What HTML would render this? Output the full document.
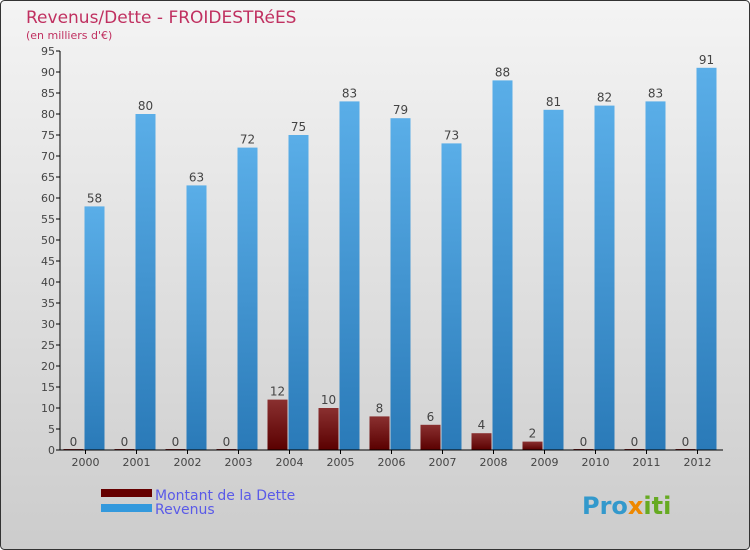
<!DOCTYPE html>
<html><head><meta charset="utf-8"><style>
body{margin:0;}
#wrap{position:relative;width:750px;height:550px;overflow:hidden;}
svg text{font-family:"DejaVu Sans","Liberation Sans",sans-serif;}
</style></head><body>
<div id="wrap">
<svg id="svg" width="750" height="550" xmlns="http://www.w3.org/2000/svg">
<defs>
<linearGradient id="bg" x1="0" y1="0" x2="0" y2="1"><stop offset="0" stop-color="#f4f4f4"/><stop offset="1" stop-color="#cccccc"/></linearGradient>
<linearGradient id="gd" x1="0" y1="0" x2="0" y2="1"><stop offset="0" stop-color="#8a3030"/><stop offset="1" stop-color="#5a0000"/></linearGradient>
<linearGradient id="gr" x1="0" y1="0" x2="0" y2="1"><stop offset="0" stop-color="#5aaee8"/><stop offset="1" stop-color="#2a7ab8"/></linearGradient>
</defs>
<rect x="0.5" y="0.5" width="749" height="549" rx="4" fill="url(#bg)" stroke="#333"/>
<text x="26" y="23" font-size="17" fill="#c03060">Revenus/Dette - FROIDESTRéES</text>
<text x="26" y="39" font-size="11" fill="#c03060">(en milliers d'€)</text>
<g id="plot"></g>
<rect x="101" y="489" width="51" height="8" fill="#660000"/>
<text x="155" y="500" font-size="14" fill="#5a5ae8">Montant de la Dette</text>
<rect x="101" y="504" width="51" height="8" fill="#3399dd"/>
<text x="155" y="514" font-size="14" fill="#5a5ae8">Revenus</text>
<text x="582" y="514" font-size="24" font-weight="bold" fill="#3399cc">Pro<tspan fill="#ee8800">x</tspan><tspan fill="#66aa22">iti</tspan></text>
</svg></div>
<script>
const years=["2000","2001","2002","2003","2004","2005","2006","2007","2008","2009","2010","2011","2012"];
const debt=[0,0,0,0,12,10,8,6,4,2,0,0,0];
const revenue=[58,80,63,72,75,83,79,73,88,81,82,83,91];
const yTicks=[0,5,10,15,20,25,30,35,40,45,50,55,60,65,70,75,80,85,90,95];
const X0=60,STEP=51,Y0=450,K=4.2;
const xc=i=>X0+STEP*i+STEP/2;
const y=v=>Y0-v*K;
const g=document.getElementById('plot');
const NS="http://www.w3.org/2000/svg";
function mk(t,a,txt){const e=document.createElementNS(NS,t);for(const k in a)e.setAttribute(k,a[k]);if(txt!==undefined)e.textContent=txt;g.appendChild(e);return e;}
yTicks.forEach(v=>{
 let l=mk('line',{x1:X0-4,x2:X0,y1:y(v),y2:y(v),stroke:'#000'});
 
 
 let t=mk('text',{x:X0-5,y:y(v)+4,'font-size':11,'text-anchor':'end',fill:'#444'},v);
 
 
});
years.forEach((yr,i)=>{
 const c=xc(i);
 let bd=mk('rect',{x:c-22,y:y(debt[i])-(debt[i]?0:1),width:20,height:Math.max(debt[i]*K,1),fill:debt[i]?'url(#gd)':'#7a2020'});
 
 
 let br=mk('rect',{x:c-1,y:y(revenue[i]),width:20,height:revenue[i]*K,fill:'url(#gr)'});
 
 
 let ld=mk('text',{x:c-12,y:y(debt[i])-4,'font-size':12,'text-anchor':'middle',fill:'#444'},debt[i]);
 
 
 let lr=mk('text',{x:c+9,y:y(revenue[i])-4,'font-size':12,'text-anchor':'middle',fill:'#444'},revenue[i]);
 
 
 let tk=mk('line',{x1:c,x2:c,y1:Y0,y2:Y0+4,stroke:'#000'});
 
 
 let xl=mk('text',{x:c,y:Y0+16,'font-size':11,'text-anchor':'middle',fill:'#444'},yr);
 
 
});
let ax=mk('line',{x1:X0,x2:X0,y1:y(95),y2:Y0,stroke:'#000'});


let bx=mk('line',{x1:X0-4,x2:X0+STEP*years.length,y1:Y0,y2:Y0,stroke:'#000'});


</script>
</body></html>
